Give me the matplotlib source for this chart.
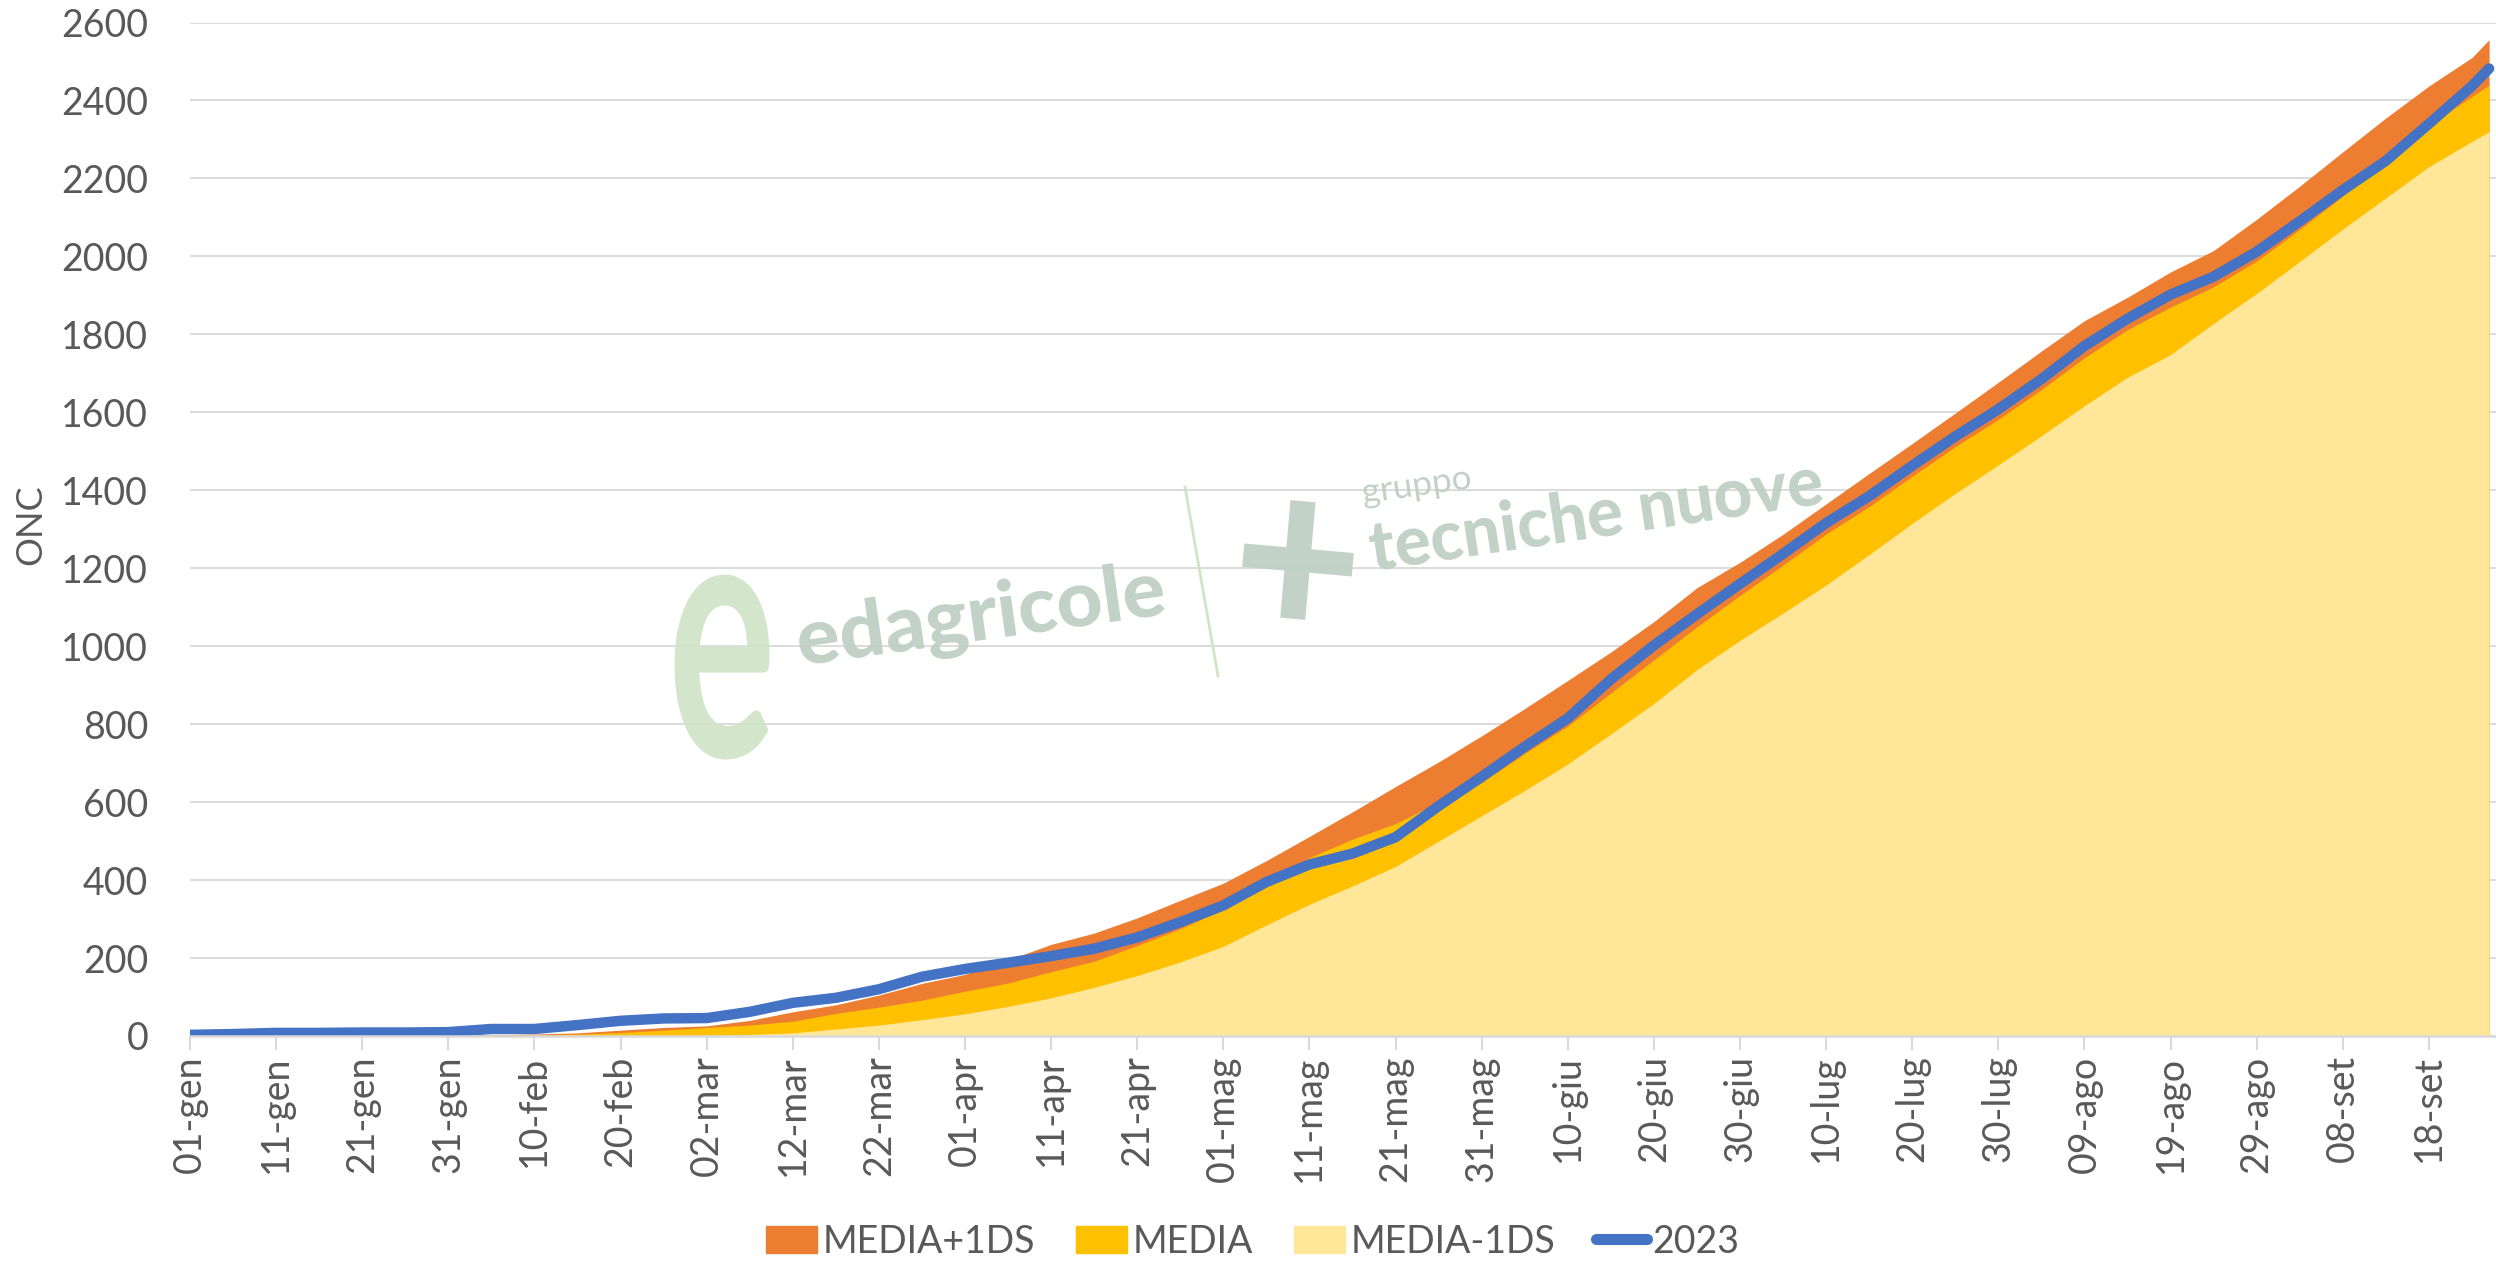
import matplotlib
matplotlib.use('Agg')
import matplotlib.pyplot as plt
from matplotlib.lines import Line2D
from matplotlib.patches import Patch, PathPatch
from matplotlib.textpath import TextPath
from matplotlib.font_manager import FontProperties
from matplotlib.transforms import Affine2D

plt.rcParams['font.family'] = ['Lato', 'DejaVu Sans']

# giorno dell'anno (0 = 01-gen), una lettura ogni 5 giorni
giorni = list(range(0, 270, 5)) + [267]

media_piu = [0, 0, 0, 0, 1, 1, 2, 3, 5, 8, 15, 22, 26, 40, 62, 80, 105, 135,
             158, 195, 235, 264, 303, 348, 392, 450, 512, 575, 640, 703, 770,
             840, 912, 985, 1063, 1150, 1215, 1287, 1365, 1443, 1520, 1598,
             1677, 1757, 1835, 1895, 1960, 2015, 2095, 2180, 2268, 2355, 2437,
             2510, 2556]

media = [0, 0, 0, 0, 0, 1, 1, 2, 3, 5, 9, 15, 22, 28, 38, 58, 74, 92, 115,
         136, 165, 192, 232, 275, 325, 400, 458, 505, 545, 600, 650, 725, 795,
         880, 965, 1050, 1130, 1208, 1288, 1358, 1436, 1512, 1582, 1658, 1740,
         1812, 1870, 1922, 1988, 2069, 2155, 2245, 2338, 2410, 2440]

media_meno = [0, 0, 0, 0, 0, 0, 0, 0, 0, 0, 0, 0, 2, 4, 8, 18, 28, 42, 57,
              76, 98, 125, 155, 190, 230, 285, 338, 385, 435, 500, 565, 630,
              698, 775, 853, 940, 1015, 1085, 1157, 1235, 1315, 1392, 1465,
              1540, 1617, 1690, 1748, 1828, 1905, 1987, 2070, 2150, 2230, 2295,
              2320]

anno_2023 = [3, 5, 8, 8, 9, 9, 10, 18, 18, 28, 39, 45, 46, 62, 85, 98, 120,
             152, 172, 188, 205, 224, 253, 292, 335, 395, 440, 468, 510, 590,
             665, 742, 815, 915, 1002, 1082, 1160, 1237, 1316, 1385, 1463,
             1538, 1608, 1685, 1770, 1840, 1902, 1948, 2012, 2090, 2170, 2245,
             2340, 2437, 2482]

tick_giorni = list(range(0, 268, 10))
tick_etichette = ['01-gen', '11-gen', '21-gen', '31-gen', '10-feb', '20-feb',
                  '02-mar', '12-mar', '22-mar', '01-apr', '11-apr', '21-apr',
                  '01-mag', '11-mag', '21-mag', '31-mag', '10-giu', '20-giu',
                  '30-giu', '10-lug', '20-lug', '30-lug', '09-ago', '19-ago',
                  '29-ago', '08-set', '18-set']

c_piu = '#ED7D31'
c_media = '#FFC000'
c_meno = '#FFE699'
c_blu = '#4472C4'
grigio = '#595959'
griglia = '#D9D9D9'

W, H = 2496, 1263
fig = plt.figure(figsize=(W / 100, H / 100), dpi=100)
ax = fig.add_axes([190 / W, 1 - 1036 / H, 1 - 190 / W, (1036 - 22.5) / H])

ax.fill_between(giorni, 0, media_piu, color=c_piu, lw=0, zorder=3)
ax.fill_between(giorni, 0, media, color=c_media, lw=0, zorder=4)
ax.fill_between(giorni, 0, media_meno, color=c_meno, lw=0, zorder=5)
ax.plot(giorni, anno_2023, color=c_blu, lw=7.5, solid_capstyle='round',
        solid_joinstyle='round', zorder=6)

ax.set_xlim(0, 267.8)
ax.set_ylim(0, 2600)
ax.set_yticks(range(0, 2601, 200))
ax.set_xticks(tick_giorni)
ax.set_xticklabels(tick_etichette, rotation=90)

ax.grid(axis='y', color=griglia, lw=1.3, zorder=0)
ax.set_axisbelow(True)
for s in ['top', 'right', 'left']:
    ax.spines[s].set_visible(False)
ax.spines['bottom'].set_color(griglia)
ax.spines['bottom'].set_linewidth(1.8)
ax.spines['bottom'].set_zorder(7)
ax.tick_params(axis='y', length=0, pad=30, labelsize=27, labelcolor=grigio)
ax.tick_params(axis='x', length=10, width=1.5, color=griglia, pad=4,
               labelsize=27, labelcolor=grigio)
ax.set_ylabel('ONC', fontsize=26, color=grigio)
ax.yaxis.set_label_coords(-0.062, 0.505)


# filigrana: testo come tracciato, adattato a larghezza/altezza in pixel
def scritta(testo, cx, cy, larg, alt, angolo, colore, peso='black'):
    fp = FontProperties(family='Lato', weight=peso)
    tp = TextPath((0, 0), testo, size=100, prop=fp)
    bb = tp.get_extents()
    tr = (Affine2D().translate(-bb.x0 - bb.width / 2, -bb.y0 - bb.height / 2)
          .scale(larg / bb.width, alt / bb.height)
          .rotate_deg(angolo).translate(cx, H - cy))
    fig.add_artist(PathPatch(tp, transform=tr, facecolor=colore, lw=0,
                             alpha=0.92, zorder=2))


verde = '#BDCFC3'
verde_chiaro = '#D0E4C8'
scritta('edagricole', 981, 618, 367, 72, 8, verde)
scritta('tecniche nuove', 1595, 512, 455, 52, 8.5, verde)
scritta('gruppo', 1417, 490, 108, 24, 8, verde, peso='normal')
scritta('+', 1298, 560, 110, 118, -5, verde)
scritta('e', 722, 667, 95, 185, 0, verde_chiaro, peso='bold')
fig.add_artist(Line2D([1185 / W, 1218 / W], [1 - 487 / H, 1 - 676 / H],
                      color=verde_chiaro, lw=2, zorder=2))

handles = [Patch(color=c_piu), Patch(color=c_media), Patch(color=c_meno),
           Line2D([0], [0], color=c_blu, lw=8, solid_capstyle='round')]
labels = ['MEDIA+1DS', 'MEDIA', 'MEDIA-1DS', '2023']
fig.legend(handles, labels, loc='lower center', bbox_to_anchor=(0.502, -0.024),
           ncol=4, frameon=False, fontsize=27, labelcolor=grigio,
           handlelength=1.35, handleheight=0.75, handletextpad=0.15,
           columnspacing=1.1)

fig.savefig('out.png', dpi=100)
